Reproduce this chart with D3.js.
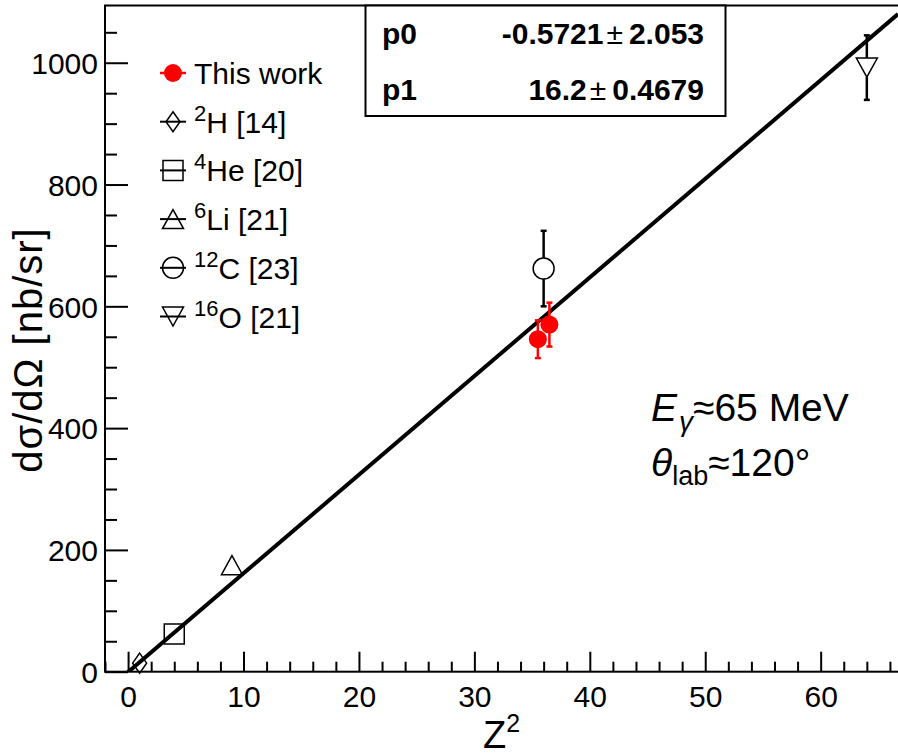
<!DOCTYPE html>
<html>
<head>
<meta charset="utf-8">
<script src="https://cdn.jsdelivr.net/npm/d3@7"></script>
<style>
  html, body { margin: 0; padding: 0; background: #fff; }
  svg { display: block; font-family: "Liberation Sans", Arial, Helvetica, sans-serif; }
</style>
</head>
<body>
<svg id="chart" width="898" height="756"></svg>
<script>
// Cross sections vs Z^2 (E_gamma ~ 65 MeV, theta_lab ~ 120 deg)
const thisWorkZ2  = [35.5, 36.5];
const thisWorkXs  = [546, 570];
const thisWorkErr = [31, 36];

const refLabels = ["2H", "4He", "6Li", "12C", "16O"];
const refSup    = ["2", "4", "6", "12", "16"];
const refElem   = ["H", "He", "Li", "C", "O"];
const refCite   = ["[14]", "[20]", "[21]", "[23]", "[21]"];
const refMarker = ["diamond", "square", "triangleUp", "circle", "triangleDown"];
const refZ2     = [1, 4, 9, 36, 64];
const refXs     = [14, 62, 175, 662, 992];
const refErr    = [0, 0, 0, 62, 53];

// Linear fit  y = p0 + p1 * Z^2
const fitNames  = ["p0", "p1"];
const fitValues = [-0.5721, 16.2];
const fitErrors = [2.053, 0.4679];
const fitText   = ["-0.5721", "16.2"];
const fitErrTxt = ["2.053", "0.4679"];

const xDomain = [-2, 66.7];
const yDomain = [0, 1094];
const xMajorTicks = [0, 10, 20, 30, 40, 50, 60];
const yMajorTicks = [0, 200, 400, 600, 800, 1000];

const frame = { left: 105, right: 898, top: 5.5, bottom: 671.7 };

const svg = d3.select("#chart");
const x = d3.scaleLinear().domain(xDomain).range([frame.left, frame.right]);
const y = d3.scaleLinear().domain(yDomain).range([frame.bottom, frame.top]);

svg.append("defs").append("clipPath").attr("id", "plotClip")
  .append("rect")
  .attr("x", frame.left).attr("y", frame.top)
  .attr("width", frame.right - frame.left).attr("height", frame.bottom - frame.top);

// Frame (right edge falls just outside the canvas)
svg.append("rect")
  .attr("x", frame.left).attr("y", frame.top)
  .attr("width", frame.right - frame.left + 2).attr("height", frame.bottom - frame.top)
  .attr("fill", "none").attr("stroke", "#000").attr("stroke-width", 2);

// X axis: ticks point inward (upward)
const xMinor = d3.range(-2, 67, 2).filter(v => v % 10 !== 0);
const xAxisMajor = d3.axisBottom(x).tickValues(xMajorTicks).tickSizeInner(-20).tickSizeOuter(0).tickPadding(14).tickFormat(d3.format("d"));
const xAxisMinor = d3.axisBottom(x).tickValues(xMinor).tickSizeInner(-10).tickSizeOuter(0).tickFormat("");
const gxMinor = svg.append("g").attr("transform", `translate(0,${frame.bottom})`).call(xAxisMinor);
const gx = svg.append("g").attr("transform", `translate(0,${frame.bottom})`).call(xAxisMajor);
[gx, gxMinor].forEach(g => {
  g.select(".domain").remove();
  g.selectAll(".tick line").attr("stroke", "#000").attr("stroke-width", 2);
});
gx.selectAll(".tick text")
  .attr("font-family", "Liberation Sans, Arial, sans-serif")
  .attr("font-size", 30).attr("fill", "#000")
  .attr("dy", "0.71em");

// Y axis: ticks point inward (rightward)
const yMinor = d3.range(0, 1094, 50).filter(v => v % 200 !== 0);
const yAxisMajor = d3.axisLeft(y).tickValues(yMajorTicks).tickSizeInner(-23).tickSizeOuter(0).tickPadding(7).tickFormat(d3.format("d"));
const yAxisMinor = d3.axisLeft(y).tickValues(yMinor).tickSizeInner(-12).tickSizeOuter(0).tickFormat("");
const gyMinor = svg.append("g").attr("transform", `translate(${frame.left},0)`).call(yAxisMinor);
const gy = svg.append("g").attr("transform", `translate(${frame.left},0)`).call(yAxisMajor);
[gy, gyMinor].forEach(g => {
  g.select(".domain").remove();
  g.selectAll(".tick line").attr("stroke", "#000").attr("stroke-width", 2);
});
gy.selectAll(".tick text")
  .attr("font-family", "Liberation Sans, Arial, sans-serif")
  .attr("font-size", 30).attr("fill", "#000")
  .attr("x", -7).attr("dy", "0.36em");

// Axis titles
const xTitle = svg.append("text")
  .attr("x", (frame.left + frame.right) / 2).attr("y", 748)
  .attr("text-anchor", "middle").attr("font-size", 38);
xTitle.append("tspan").text("Z");
xTitle.append("tspan").attr("font-size", 25).attr("dy", -16).text("2");

svg.append("text")
  .attr("transform", `translate(42,350) rotate(-90)`)
  .attr("text-anchor", "middle").attr("font-size", 40).attr("letter-spacing", 1)
  .text("dσ/dΩ [nb/sr]");

// Fit line, clipped to the frame
const fitLine = d3.line().x(d => x(d)).y(d => y(fitValues[0] + fitValues[1] * d));
svg.append("path")
  .attr("clip-path", "url(#plotClip)")
  .attr("d", fitLine(xDomain))
  .attr("fill", "none").attr("stroke", "#000").attr("stroke-width", 4);

// Marker shapes
const markerSize = { diamond: [14, 20], square: [20, 20], triangleUp: [21, 19], circle: [21, 21], triangleDown: [21, 19] };
function markerPath(kind, cx, cy) {
  const [w, h] = markerSize[kind];
  const p = d3.path();
  if (kind === "diamond") {
    p.moveTo(cx, cy - h / 2); p.lineTo(cx + w / 2, cy); p.lineTo(cx, cy + h / 2); p.lineTo(cx - w / 2, cy); p.closePath();
  } else if (kind === "square") {
    p.rect(cx - w / 2, cy - h / 2, w, h);
  } else if (kind === "triangleUp") {
    p.moveTo(cx, cy - h / 2); p.lineTo(cx + w / 2, cy + h / 2); p.lineTo(cx - w / 2, cy + h / 2); p.closePath();
  } else if (kind === "triangleDown") {
    p.moveTo(cx - w / 2, cy - h / 2); p.lineTo(cx + w / 2, cy - h / 2); p.lineTo(cx, cy + h / 2); p.closePath();
  } else {
    p.arc(cx, cy, w / 2, 0, 2 * Math.PI);
  }
  return p.toString();
}

// Reference data: error bars with a gap around the open marker
const refData = refZ2.map((z, i) => ({ z, v: refXs[i], e: refErr[i], kind: refMarker[i] }));
const refG = svg.append("g");
refData.filter(d => d.e > 0).forEach(d => {
  const cx = x(d.z), cy = y(d.v), half = markerSize[d.kind][1] / 2;
  const top = y(d.v + d.e), bot = y(d.v - d.e);
  const eb = refG.append("g").attr("stroke", "#000").attr("stroke-width", 2.5);
  eb.append("line").attr("x1", cx).attr("x2", cx).attr("y1", top).attr("y2", cy - half);
  eb.append("line").attr("x1", cx).attr("x2", cx).attr("y1", cy + half).attr("y2", bot);
  eb.append("line").attr("x1", cx - 3).attr("x2", cx + 3).attr("y1", top).attr("y2", top);
  eb.append("line").attr("x1", cx - 3).attr("x2", cx + 3).attr("y1", bot).attr("y2", bot);
});
refG.selectAll("path.marker").data(refData).join("path")
  .attr("class", "marker")
  .attr("d", d => markerPath(d.kind, x(d.z), y(d.v)))
  .attr("fill", "none").attr("stroke", "#000").attr("stroke-width", 1.5);

// This work (red, filled)
const twData = thisWorkZ2.map((z, i) => ({ z, v: thisWorkXs[i], e: thisWorkErr[i] }));
const twG = svg.append("g");
twData.forEach(d => {
  const cx = x(d.z), top = y(d.v + d.e), bot = y(d.v - d.e);
  const eb = twG.append("g").attr("stroke", "red").attr("stroke-width", 2.5);
  eb.append("line").attr("x1", cx).attr("x2", cx).attr("y1", top).attr("y2", bot);
  eb.append("line").attr("x1", cx - 3).attr("x2", cx + 3).attr("y1", top).attr("y2", top);
  eb.append("line").attr("x1", cx - 3).attr("x2", cx + 3).attr("y1", bot).attr("y2", bot);
});
twG.selectAll("circle").data(twData).join("circle")
  .attr("cx", d => x(d.z)).attr("cy", d => y(d.v)).attr("r", 9).attr("fill", "red");

// Legend
const legX = 173, legY0 = 73, legDy = 48.7, legText = 194;
const legend = svg.append("g");
const tw = legend.append("g");
tw.append("line").attr("x1", legX - 13).attr("x2", legX + 13).attr("y1", legY0).attr("y2", legY0)
  .attr("stroke", "red").attr("stroke-width", 2.5);
tw.append("circle").attr("cx", legX).attr("cy", legY0).attr("r", 9).attr("fill", "red");
tw.append("text").attr("x", legText).attr("y", legY0 + 11).attr("font-size", 30).text("This work");
refData.forEach((d, i) => {
  const cy = legY0 + legDy * (i + 1);
  const g = legend.append("g");
  g.append("line").attr("x1", legX - 13).attr("x2", legX + 13).attr("y1", cy).attr("y2", cy)
    .attr("stroke", "#000").attr("stroke-width", 2);
  g.append("path").attr("d", markerPath(d.kind, legX, cy)).attr("fill", "none")
    .attr("stroke", "#000").attr("stroke-width", 1.5);
  const t = g.append("text").attr("x", legText).attr("y", cy + 11).attr("font-size", 30);
  t.append("tspan").attr("font-size", 22).attr("dy", -12).text(refSup[i]);
  t.append("tspan").attr("dy", 12).text(refElem[i] + " " + refCite[i]);
});

// Fit statistics box
const box = { x0: 365.5, x1: 725.5, y0: 5.5, y1: 116 };
svg.append("rect").attr("x", box.x0).attr("y", box.y0)
  .attr("width", box.x1 - box.x0).attr("height", box.y1 - box.y0)
  .attr("fill", "#fff").attr("stroke", "#000").attr("stroke-width", 2);
fitNames.forEach((n, i) => {
  const by = 44 + i * 56;
  svg.append("text").attr("x", 382).attr("y", by).attr("font-size", 30).attr("font-weight", "bold").text(n);
  const t = svg.append("text").attr("x", 704).attr("y", by).attr("text-anchor", "end")
    .attr("font-size", 30).attr("font-weight", "bold");
  t.append("tspan").text(fitText[i]);
  t.append("tspan").attr("font-weight", "normal").attr("dx", 3).text("±");
  t.append("tspan").attr("dx", 6).text(fitErrTxt[i]);
});

// Kinematics annotation
const a1 = svg.append("text").attr("x", 651).attr("y", 421).attr("font-size", 39);
a1.append("tspan").attr("font-style", "italic").text("E");
a1.append("tspan").attr("font-style", "italic").attr("font-size", 28).attr("dy", 10).attr("dx", 2).text("γ");
a1.append("tspan").attr("dy", -10).text("≈65 MeV");
const a2 = svg.append("text").attr("x", 651).attr("y", 476).attr("font-size", 39);
a2.append("tspan").attr("font-style", "italic").text("θ");
a2.append("tspan").attr("font-size", 27).attr("dy", 9).text("lab");
a2.append("tspan").attr("dy", -9).text("≈120°");
</script>
</body>
</html>
